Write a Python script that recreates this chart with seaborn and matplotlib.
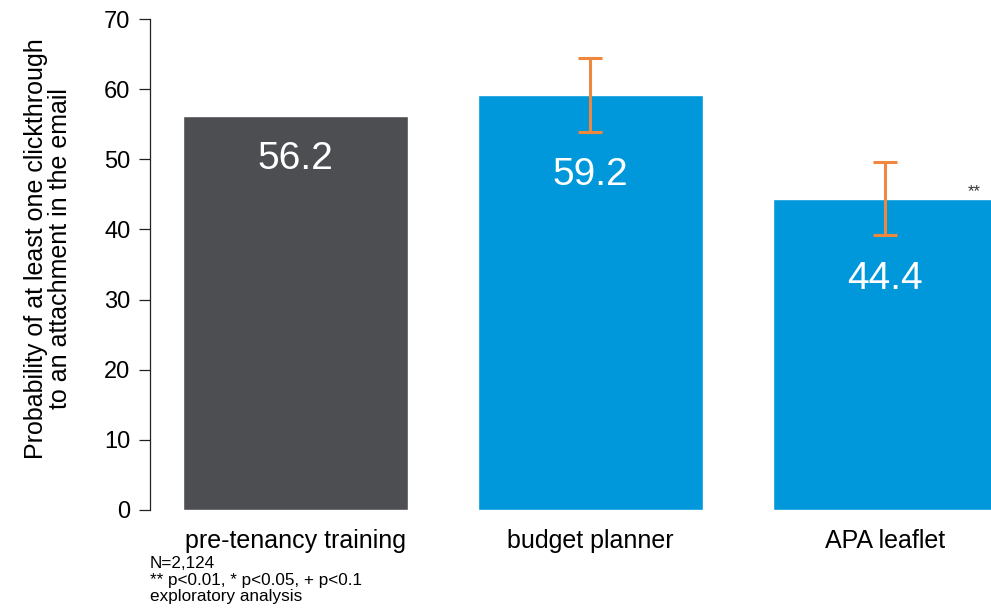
import matplotlib
matplotlib.use("Agg")
import matplotlib.pyplot as plt
import seaborn as sns
import pandas as pd

# Data
categories = ["pre-tenancy training", "budget planner", "APA leaflet"]
values = [56.2, 59.2, 44.4]
errors = [0.0, 5.3, 5.2]
significance = ["", "", "**"]
y_ticks = [0, 10, 20, 30, 40, 50, 60, 70]
notes = ["N=2,124", "** p<0.01, * p<0.05, + p<0.1", "exploratory analysis"]
ylabel = "Probability of at least one clickthrough\nto an attachment in the email"

bar_colors = ["#4D4E52", "#0098DA", "#0098DA"]
err_color = "#EF873F"

sns.set_theme(style="white")
plt.rcParams["font.family"] = ["Liberation Sans", "DejaVu Sans"]

df = pd.DataFrame({"group": categories, "value": values})

fig = plt.figure(figsize=(9.91, 6.14), dpi=100)
ax = fig.add_axes([150 / 991, 104 / 614, 841 / 991, 491 / 614])

sns.barplot(data=df, x="group", y="value", hue="group", palette=bar_colors,
            width=0.763, saturation=1, legend=False, ax=ax)

# error bars on the treatment groups
for i, (v, e) in enumerate(zip(values, errors)):
    if e > 0:
        ax.errorbar(i, v, yerr=e, color=err_color, lw=2.2, capsize=8.3,
                    capthick=2.2, zorder=5)

# value labels inside the bars, below any error bar
for i, (v, e) in enumerate(zip(values, errors)):
    ax.text(i, v - e - 6.2, f"{v:.1f}", ha="center", va="center",
            color="white", fontsize=28)

# significance marker
for i, (v, s) in enumerate(zip(values, significance)):
    if s:
        ax.text(i + 0.30, v + 1.0, s, ha="center", va="center",
                color="#333333", fontsize=12)

ax.set_xlim(-0.493, 2.358)
ax.set_ylim(0, 70)
ax.set_yticks(y_ticks)
ax.set_xlabel("")
ax.set_ylabel("")

# y-axis title, two centred lines
fig.text(48 / 991, 1 - 249 / 614, ylabel, rotation=90, ha="center",
         va="center", multialignment="center", fontsize=18,
         linespacing=1.05, color="black")

for side in ["top", "right", "bottom"]:
    ax.spines[side].set_visible(False)
ax.spines["left"].set_color("#222222")
ax.spines["left"].set_linewidth(0.9)

ax.tick_params(axis="y", which="major", left=True, length=8, width=0.9,
               color="#222222", labelsize=17, pad=6, labelcolor="black")
ax.tick_params(axis="x", length=0, labelsize=18, pad=14, labelcolor="black")

# footnotes
for k, line in enumerate(notes):
    fig.text(150 / 991, 1 - (563 + 17 * k) / 614, line, ha="left",
             va="center", fontsize=12.3, color="black")

fig.savefig("out.png", dpi=100)
